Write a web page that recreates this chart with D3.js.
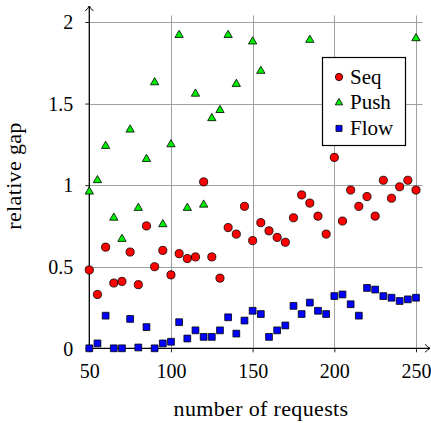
<!DOCTYPE html>
<meta charset="utf-8">
<style>
body { margin: 0; background: #fff; }
</style>
<svg width="431" height="423" font-family="Liberation Serif, serif"></svg>
<script src="https://d3js.org/d3.v7.min.js"></script>
<script>

var requests = d3.range(50, 251, 5);

var seq = [0.48, 0.33, 0.62, 0.40, 0.41, 0.59, 0.39, 0.75, 0.50, 0.60,
           0.45, 0.58, 0.55, 0.56, 1.02, 0.56, 0.43, 0.74, 0.70, 0.87,
           0.66, 0.77, 0.72, 0.68, 0.65, 0.80, 0.94, 0.89, 0.81, 0.70,
           1.17, 0.78, 0.97, 0.87, 0.93, 0.81, 1.03, 0.92, 0.99, 1.03, 0.97];

// null = above the visible range
var push = [0.96, 1.03, 1.24, 0.80, 0.67, 1.34, 0.86, 1.16, 1.63, 0.76,
            1.25, 1.92, 0.86, 1.56, 0.88, 1.41, 1.46, 1.92, 1.62, null,
            1.88, 1.70, null, null, null, null, null, 1.89, null, null,
            null, null, null, null, null, null, null, null, null, null, 1.90];

var flow = [0.00, 0.03, 0.20, 0.00, 0.00, 0.18, 0.005, 0.13, 0.00, 0.03,
            0.04, 0.16, 0.06, 0.11, 0.07, 0.07, 0.11, 0.19, 0.09, 0.17,
            0.23, 0.21, 0.07, 0.11, 0.14, 0.26, 0.21, 0.28, 0.23, 0.21,
            0.32, 0.33, 0.27, 0.20, 0.37, 0.36, 0.32, 0.31, 0.29, 0.30, 0.31];

var xTicks = [50, 100, 150, 200, 250];
var yTicks = [0, 0.5, 1, 1.5, 2];
var seriesNames = ["Seq", "Push", "Flow"];

var FONT = "Liberation Serif";
var svg = d3.select("svg");

var x = d3.scaleLinear().domain([50, 250]).range([89.3, 416]);
var y = d3.scaleLinear().domain([0, 2]).range([348.3, 22]);
var xMax = 254, yMax = 2.04;

// grid
var grid = svg.append("g").attr("stroke", "#a0a0a0").attr("stroke-width", 1);
grid.selectAll(".vx").data(xTicks.slice(1)).enter().append("line")
    .attr("x1", function(d) { return Math.round(x(d)) + 0.5; })
    .attr("x2", function(d) { return Math.round(x(d)) + 0.5; })
    .attr("y1", y(0)).attr("y2", y(yMax));
grid.selectAll(".hy").data(yTicks.slice(1)).enter().append("line")
    .attr("y1", function(d) { return Math.round(y(d)) + 0.5; })
    .attr("y2", function(d) { return Math.round(y(d)) + 0.5; })
    .attr("x1", x(50)).attr("x2", x(xMax));

// axes (tick labels)
var xAxis = svg.append("g").attr("transform", "translate(0," + y(0) + ")")
    .call(d3.axisBottom(x).tickValues(xTicks).tickSize(4).tickPadding(12).tickFormat(d3.format("d")));
var yAxis = svg.append("g").attr("transform", "translate(" + x(50) + ",0)")
    .call(d3.axisLeft(y).tickValues(yTicks).tickSize(4).tickPadding(12).tickFormat(function(d) { return d; }));
[xAxis, yAxis].forEach(function(a) {
  a.select(".domain").remove();
  a.attr("font-family", FONT).attr("font-size", 20);
  a.selectAll("text").attr("style", "font-family:" + FONT + ";font-size:20px").attr("fill", "#000");
  a.selectAll("line").attr("stroke", "#222");
});
yAxis.selectAll("text").attr("dy", "0.34em");

// axis lines with arrows
svg.append("defs").append("marker")
    .attr("id", "arr").attr("viewBox", "-6 -5 8 10").attr("refX", 0).attr("refY", 0)
    .attr("markerWidth", 8).attr("markerHeight", 10).attr("markerUnits", "userSpaceOnUse")
    .attr("orient", "auto")
  .append("path").attr("d", "M-5,-4 Q-2,-1 0,0 Q-2,1 -5,4")
    .attr("fill", "none").attr("stroke", "#000").attr("stroke-width", 1);
svg.append("line").attr("x1", x(50)).attr("x2", 430).attr("y1", y(0)).attr("y2", y(0))
    .attr("stroke", "#000").attr("stroke-width", 1.3).attr("marker-end", "url(#arr)");
svg.append("line").attr("x1", x(50)).attr("x2", x(50)).attr("y1", y(0)).attr("y2", 6)
    .attr("stroke", "#000").attr("stroke-width", 1.3).attr("marker-end", "url(#arr)");

// labels
svg.append("text").attr("x", 261).attr("y", 416).attr("text-anchor", "middle")
    .attr("style", "font-family:" + FONT + ";font-size:22px;letter-spacing:0.35px").text("number of requests");
svg.append("text").attr("transform", "translate(21,176) rotate(-90)").attr("text-anchor", "middle")
    .attr("style", "font-family:" + FONT + ";font-size:22px;letter-spacing:0.35px").text("relative gap");

// markers
var symbols = [
  { data: seq, shape: d3.symbolCircle, size: 52, color: "#ff0000" },
  { data: push, shape: d3.symbolTriangle, size: 30, color: "#00ee00" },
  { data: flow, shape: d3.symbolSquare, size: 46, color: "#0000ff" }
];
symbols.forEach(function(s) {
  svg.append("g").selectAll("path")
      .data(requests.map(function(r, i) { return [r, s.data[i]]; })
        .filter(function(d) { return d[1] != null; }))
    .enter().append("path")
      .attr("d", d3.symbol().type(s.shape).size(s.size))
      .attr("transform", function(d) { return "translate(" + x(d[0]) + "," + y(d[1]) + ")"; })
      .attr("fill", s.color).attr("stroke", "#000").attr("stroke-width", 0.8);
});

// legend
var lg = svg.append("g");
lg.append("rect").attr("x", 322.5).attr("y", 57.5).attr("width", 83).attr("height", 88)
    .attr("fill", "#fff").attr("stroke", "#000").attr("stroke-width", 1.2);
seriesNames.forEach(function(name, i) {
  var yy = 77 + i * 25.7;
  lg.append("path").attr("d", d3.symbol().type(symbols[i].shape).size(symbols[i].size * 0.8))
      .attr("transform", "translate(339," + yy + ")")
      .attr("fill", symbols[i].color).attr("stroke", "#000").attr("stroke-width", 0.8);
  lg.append("text").attr("x", 350).attr("y", yy + 6.5)
      .attr("style", "font-family:" + FONT + ";font-size:21px").text(name);
});

</script>
